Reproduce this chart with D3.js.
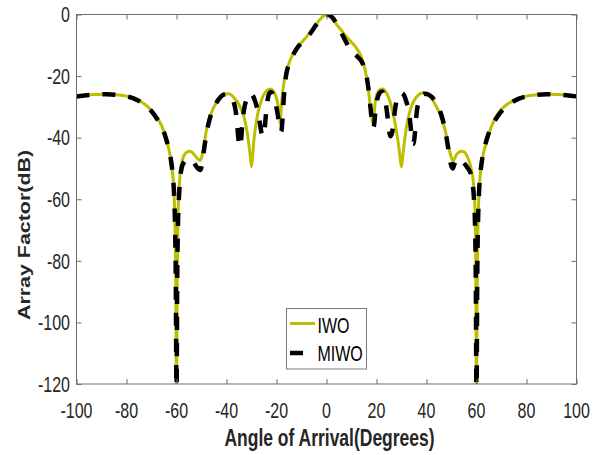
<!DOCTYPE html>
<html><head><meta charset="utf-8">
<script src="https://cdn.jsdelivr.net/npm/d3@7"></script>
<style>body{margin:0;background:#fff}svg{display:block}</style>
</head><body><svg id="c" width="600" height="455"></svg>
<script>
const xTicks = [-100,-80,-60,-40,-20,0,20,40,60,80,100];
const yTicks = [0,-20,-40,-60,-80,-100,-120];
const seriesNames = ["IWO","MIWO"];
const xLabel = "Angle of Arrival(Degrees)";
const yLabel = "Array Factor(dB)";

// IWO curve: [angle (deg), array factor (dB)]
const iwoCurve = [
[-100,-26.6],[-96,-26.2],[-92,-26.0],[-88,-25.9],[-84,-26.1],[-80,-26.5],[-77,-27.2],[-74,-28.4],[-72,-29.6],[-70,-31.2],
[-68,-33.4],[-66,-36.0],[-64.5,-39.3],[-63,-44],[-62,-48.5],[-61.5,-52],[-61,-58],[-60.6,-68],[-60.3,-85],[-60,-125],
[-59.7,-85],[-59.4,-66],[-59,-57],[-58.5,-51.5],[-58,-48.5],[-57,-45.8],[-56,-44.8],[-55,-44.4],[-54,-44.6],[-53,-45.4],
[-52,-46.4],[-51,-47.2],[-50.5,-47.4],[-50,-46.5],[-49,-42.5],[-48,-37.5],[-47,-34.3],[-46,-31.8],[-45,-30],[-44,-28.6],
[-43,-27.4],[-42,-26.5],[-41,-26],[-40,-25.7],[-39,-25.7],[-38,-26.2],[-37,-27],[-36,-28],[-35,-29.3],[-34,-31],
[-33,-33.3],[-32,-37],[-31,-42.5],[-30.5,-46],[-30,-49.4],[-29.5,-45.5],[-29,-40.5],[-28,-34.5],[-27,-30.5],[-26,-27.8],
[-25,-25.9],[-24,-24.8],[-23,-24.3],[-22.5,-24.2],[-22,-24.3],[-21,-25.2],[-20,-27.2],[-19.5,-29],[-19,-31.5],[-18.6,-35.4],
[-18.3,-33],[-18,-29.5],[-17.5,-25],[-17,-22],[-16.5,-20],[-16,-18.4],[-15,-15.8],[-14,-13.8],[-13,-12.2],[-12,-11],
[-11,-10],[-10,-9.1],[-9,-8.2],[-8,-7.3],[-7,-6.3],[-6,-5.3],[-5,-4.2],[-4,-3.1],[-3,-2],[-2,-1.1],[-1,-0.35],[0,0],
[1,-0.3],[2,-1.1],[3,-2.1],[4,-3.2],[5,-4.2],[6,-5.2],[7,-6.2],[8,-7.2],[9,-8.1],[10,-9],
[11,-9.9],[12,-10.9],[13,-12.2],[14,-14],[15,-16.5],[16,-20.3],[16.5,-22.8],[17,-26],[17.5,-30],[18,-33.2],
[18.6,-35.4],[19,-32.5],[19.5,-28.5],[20,-26.3],[21,-24.7],[22,-24.2],[22.5,-24.2],[23,-24.4],[24,-25.5],[25,-27.3],
[26,-30],[27,-33.5],[28,-38],[29,-43.5],[29.6,-47.5],[30,-49.4],[30.5,-46],[31,-42.5],[32,-36.5],[33,-32.5],
[34,-29.8],[35,-28],[36,-26.8],[37,-26],[38,-25.6],[39,-25.5],[40,-25.7],[41,-26.2],[42,-27.2],[43,-28.5],
[44,-30],[45,-31.6],[46,-33.6],[47,-36.2],[48,-39.5],[49,-43.5],[50,-46.6],[50.6,-47.6],[51.2,-46.8],[52,-45.5],
[53,-44.7],[54,-44.4],[55,-44.6],[56,-45.6],[57,-47.5],[58,-50.5],[58.6,-53.5],[59,-57],[59.4,-64],[59.7,-80],
[60,-125],[60.3,-85],[60.6,-68],[61,-58],[61.5,-52],[62,-48.5],[63,-44.3],[64,-41.5],[66,-36.3],[68,-33],
[70,-30.8],[72,-29.3],[74,-28.3],[77,-27.2],[80,-26.5],[84,-26.1],[88,-25.9],[92,-26],[96,-26.2],[100,-26.6]
];

// MIWO curve: [angle (deg), array factor (dB)]
const miwoCurve = [
[-100,-26.6],[-96,-26.2],[-92,-26],[-88,-25.9],[-84,-26.1],[-80,-26.6],[-77,-27.3],[-74,-28.6],[-72,-29.8],[-70,-31.4],
[-68,-33.6],[-66,-36.3],[-64.5,-39.5],[-63,-44],[-62,-48.5],[-61.5,-52],[-61,-58],[-60.6,-68],[-60.3,-85],[-60,-125],
[-59.7,-85],[-59.4,-68],[-59,-59],[-58.5,-53],[-58,-50],[-57,-48],[-56,-47.2],[-55,-46.9],[-54,-47.2],[-53,-48.2],
[-52,-49.4],[-51,-50.3],[-50.5,-50.5],[-50,-49.5],[-49.5,-47],[-49,-44],[-48,-38.5],[-47,-34.8],[-46,-32],[-45,-30.1],
[-44,-28.6],[-43,-27.4],[-42,-26.5],[-41,-26],[-40,-25.8],[-39,-26.1],[-38,-27],[-37,-28.8],[-36.3,-31.5],[-35.8,-35],
[-35.4,-39],[-35,-42],[-34.6,-43],[-34.2,-41],[-33.8,-37],[-33.4,-33.5],[-33,-31],[-32,-27.6],[-31,-25.9],[-30.3,-25.6],
[-29.5,-26.3],[-28.5,-28.3],[-27.5,-31.3],[-26.7,-35],[-26,-38.5],[-25.5,-39.6],[-25,-38.8],[-24.5,-35],[-24,-30.5],[-23.5,-27.5],
[-23,-25.8],[-22.3,-25.2],[-21.5,-25.8],[-20.5,-28.5],[-19.5,-32.5],[-18.6,-37],[-18.1,-38],[-17.6,-34],[-17.2,-28.5],[-16.8,-24],
[-16,-19],[-15,-16.2],[-14,-14.2],[-13,-12.6],[-12,-11.2],[-11,-10.1],[-10,-9.1],[-9,-8.3],[-8,-7.6],[-7,-6.7],
[-6,-5.6],[-5,-4.4],[-4,-3.2],[-3,-2.1],[-2,-1.1],[-1,-0.4],[0,-0.1],[0.7,0],[1.5,-0.4],[2,-0.7],
[3,-1.6],[4,-3],[5,-4.5],[6,-6],[7,-7.6],[8,-9.2],[9,-10.7],[10,-11.9],[11,-12.7],[12,-13.4],
[13,-14.2],[14,-15.2],[15,-17],[16,-20],[17,-25.5],[17.5,-29.5],[18,-33.5],[18.5,-36.8],[19,-36],[19.5,-32],
[20,-28.8],[20.8,-26.2],[21.5,-25.3],[22.3,-25],[23,-26.3],[24,-30.5],[24.7,-35],[25.5,-39.5],[26.2,-38.5],[26.8,-35],
[27.4,-31],[28,-28],[29,-26],[30,-25.5],[31,-26.2],[32,-28.5],[33,-31.5],[33.6,-36],[34.2,-40.5],[34.7,-42],
[35.2,-40],[35.7,-35],[36.2,-31],[37,-28],[38,-26.3],[39,-25.7],[40,-25.8],[41,-26.1],[42,-26.7],[43,-27.6],
[44,-28.9],[45,-30.5],[46,-32.8],[47,-35.8],[48,-40],[49,-45],[49.7,-48.5],[50.5,-50],[51.2,-48.5],[52,-47.3],
[53,-46.8],[54,-47.2],[55,-48.2],[56,-49.3],[57,-50.5],[58,-52.5],[58.6,-56],[59,-60],[59.4,-68],[59.7,-85],
[60,-125],[60.3,-85],[60.6,-68],[61,-58],[61.5,-52],[62,-48.5],[63,-44],[64.5,-39.5],[66,-36.3],[68,-33.6],
[70,-31.4],[72,-29.8],[74,-28.6],[77,-27.3],[80,-26.6],[84,-26.1],[88,-25.9],[92,-26],[96,-26.2],[100,-26.6]
];

const svg = d3.select("#c");
const L = 76.5, R = 576.5, T = 14.5, B = 384;
const x = d3.scaleLinear().domain([-100,100]).range([L,R]);
const y = d3.scaleLinear().domain([-120,0]).range([B,T]);
const FONT = "'Liberation Sans', Arial, Helvetica, sans-serif";
const TXT = "#262626";
const AX = "#6e6e6e";
const SY = 1.35;

svg.append("rect").attr("width",600).attr("height",455).attr("fill","#fff");

svg.append("defs").append("clipPath").attr("id","clip")
  .append("rect").attr("x",L).attr("y",T).attr("width",R-L).attr("height",B-T);

const line = d3.line().x(d=>x(d[0])).y(d=>y(d[1])).curve(d3.curveMonotoneX);
const plot = svg.append("g").attr("clip-path","url(#clip)");
plot.append("path").datum(iwoCurve).attr("d",line)
  .attr("fill","none").attr("stroke","#bebe00").attr("stroke-width",3)
  .attr("stroke-linejoin","round");
plot.append("path").datum(miwoCurve).attr("d",line)
  .attr("fill","none").attr("stroke","#000").attr("stroke-width",4.5)
  .attr("stroke-dasharray","13,13").attr("stroke-linejoin","round");

// axes (ticks inward, all four sides)
function styleAxis(g){
  g.select(".domain").remove();
  g.selectAll(".tick line").attr("stroke",AX);
  g.selectAll(".tick text").remove();
}
svg.append("g").attr("transform",`translate(0,${B})`)
  .call(d3.axisBottom(x).tickValues(xTicks).tickSizeInner(-5).tickSizeOuter(0)).call(styleAxis);
svg.append("g").attr("transform",`translate(0,${T})`)
  .call(d3.axisTop(x).tickValues(xTicks).tickSizeInner(-5).tickSizeOuter(0)).call(styleAxis);
svg.append("g").attr("transform",`translate(${L},0)`)
  .call(d3.axisLeft(y).tickValues(yTicks).tickSizeInner(-5).tickSizeOuter(0)).call(styleAxis);
svg.append("g").attr("transform",`translate(${R},0)`)
  .call(d3.axisRight(y).tickValues(yTicks).tickSizeInner(-5).tickSizeOuter(0)).call(styleAxis);
svg.append("rect").attr("x",L).attr("y",T).attr("width",R-L).attr("height",B-T)
  .attr("fill","none").attr("stroke",AX).attr("stroke-width",1);

// tick labels
svg.append("g").selectAll("text").data(xTicks).join("text")
  .attr("transform",d=>`translate(${x(d)},417.5) scale(1,${SY})`)
  .attr("text-anchor","middle").attr("font-family",FONT).attr("font-size",16)
  .attr("fill",TXT).text(d=>d);
svg.append("g").selectAll("text").data(yTicks).join("text")
  .attr("transform",d=>`translate(70,${y(d)+7.7}) scale(1,${SY})`)
  .attr("text-anchor","end").attr("font-family",FONT).attr("font-size",16)
  .attr("fill",TXT).text(d=>d);

// axis titles
svg.append("text").attr("transform",`translate(329.5,446) scale(1,${SY})`)
  .attr("text-anchor","middle").attr("font-family",FONT).attr("font-size",17.5)
  .attr("font-weight","bold").attr("fill",TXT).text(xLabel);
svg.append("text").attr("transform",`translate(29.5,235) rotate(-90) scale(1.26,1)`)
  .attr("text-anchor","middle").attr("font-family",FONT).attr("font-size",17)
  .attr("font-weight","bold").attr("fill",TXT).text(yLabel);

// legend
const lg = svg.append("g");
lg.append("rect").attr("x",286.5).attr("y",308.5).attr("width",80).attr("height",60.5)
  .attr("fill","#fff").attr("stroke","#7a7a7a").attr("stroke-width",1);
const legendStyles = [
  {stroke:"#bebe00", w:3, dash:null, ly:323.5, ty:332.5},
  {stroke:"#000", w:4.5, dash:"13,13", ly:353, ty:361}
];
seriesNames.forEach((name,i)=>{
  const s = legendStyles[i];
  const l = lg.append("line").attr("x1",290).attr("x2",315).attr("y1",s.ly).attr("y2",s.ly)
    .attr("stroke",s.stroke).attr("stroke-width",s.w);
  if(s.dash) l.attr("stroke-dasharray",s.dash);
  lg.append("text").attr("transform",`translate(317.5,${s.ty}) scale(1,${SY})`)
    .attr("font-family",FONT).attr("font-size",16).attr("fill","#000").text(name);
});
</script>
</body></html>
